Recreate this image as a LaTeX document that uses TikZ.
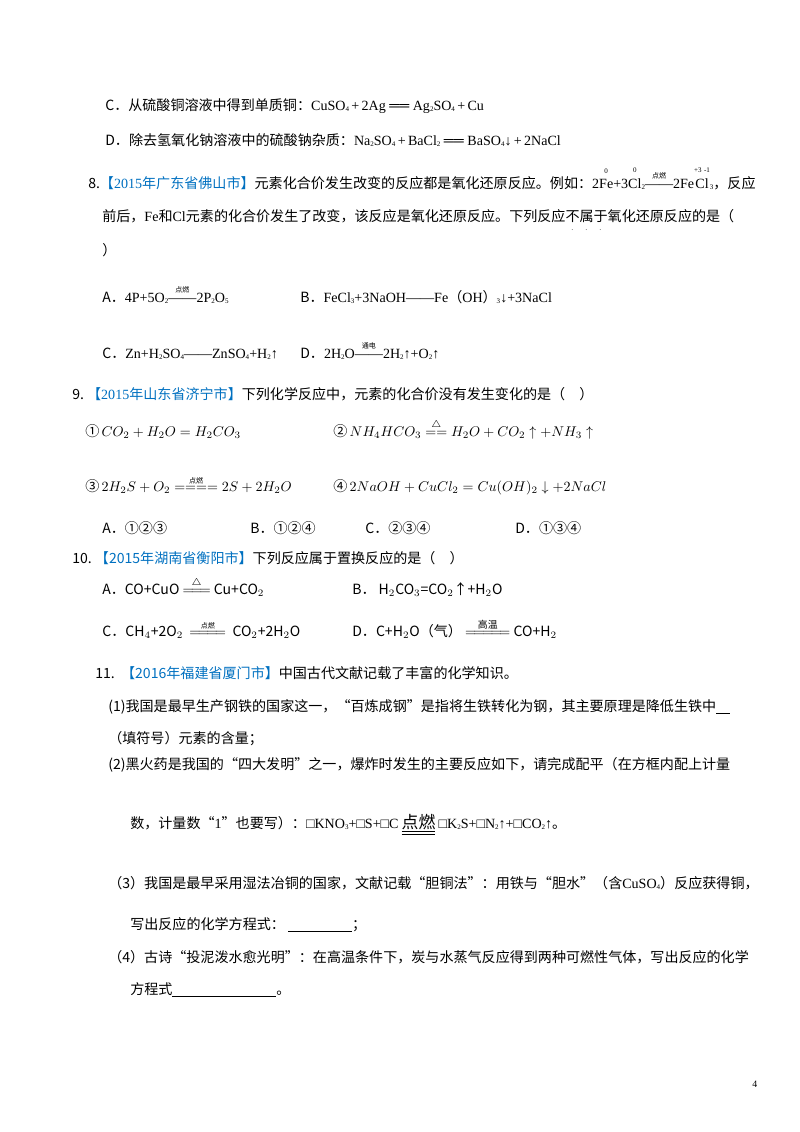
\documentclass[tikz,border=0pt]{standalone}
\usepackage{amsmath,amssymb}
\usepackage{fontspec}
\setmainfont{Noto Sans CJK SC}
\newfontfamily\lat{Liberation Serif}
\definecolor{srcblue}{RGB}{0,112,192}
\newcommand{\src}[1]{\textcolor{srcblue}{【#1】}}
\newcommand{\ce}[1]{{\lat #1}}
\newcommand{\sub}[1]{\raisebox{-0.3ex}{\tiny #1}}
\newcommand{\ov}[2]{\shortstack{{\tiny\rmfamily #1}\\[1pt]#2}}
\newcommand{\dotch}[1]{#1\llap{\raisebox{-1.3ex}{\tiny .}\hspace{0.45em}}}
\begin{document}
\begin{tikzpicture}[x=0.025cm, y=-0.025cm, font=\fontsize{10}{12}\selectfont]
  \tikzset{
    line/.style={anchor=base west, inner sep=0pt}
  }
  % page
  \useasboundingbox (0,0) rectangle (800,1132);

  % end of question 7
  \node[line] (q7c) at (105,110) {C．从硫酸铜溶液中得到单质铜：\ce{CuSO\sub{4}\,+\,2Ag ══ Ag\sub{2}SO\sub{4}\,+\,Cu}};
  \node[line] (q7d) at (105,145) {D．除去氢氧化钠溶液中的硫酸钠杂质：\ce{Na\sub{2}SO\sub{4}\,+\,BaCl\sub{2} ══ BaSO\sub{4}↓\,+\,2NaCl}};

  % question 8
  \node[line] (q8) at (88,188) {8.\src{\ce{2015}年广东省佛山市}元素化合价发生改变的反应都是氧化还原反应。例如：\ce{2\ov{\lat 0}{Fe}+3\ov{\lat 0}{Cl}\sub{2}\ov{点燃}{——}2Fe\ov{\lat +3\,\,-1}{Cl}\sub{3}}，反应};
  \node[line] (q8b) at (102,221) {前后，\ce{Fe}和\ce{Cl}元素的化合价发生了改变，该反应是氧化还原反应。下列反应\dotch{不}\dotch{属}\dotch{于}氧化还原反应的是（};
  \node[line] (q8c) at (102,255) {）};
  \node[line] (q8A) at (102,302) {A．\ce{4P+5O\sub{2}\ov{点燃}{——}2P\sub{2}O\sub{5}}};
  \node[line] (q8B) at (300,302) {B．\ce{FeCl\sub{3}+3NaOH——Fe}（\ce{OH}）\ce{\sub{3}↓+3NaCl}};
  \node[line] (q8C) at (102,358) {C．\ce{Zn+H\sub{2}SO\sub{4}——ZnSO\sub{4}+H\sub{2}↑}};
  \node[line] (q8D) at (300,358) {D．\ce{2H\sub{2}O\ov{通电}{——}2H\sub{2}↑+O\sub{2}↑}};

  % question 9
  \node[line] (q9) at (72,399) {9.\ \src{\ce{2015}年山东省济宁市}下列化学反应中，元素的化合价没有发生变化的是（\quad ）};
  \node[line] (e1) at (85,436) {①$\,CO_2+H_2O=H_2CO_3$};
  \node[line] (e2) at (333,436) {②$\,NH_4HCO_3 \overset{\triangle}{==} H_2O+CO_2\uparrow+NH_3\uparrow$};
  \node[line] (e3) at (85,491) {③$\,2H_2S+O_2\overset{\text{\tiny 点燃}}{====}2S+2H_2O$};
  \node[line] (e4) at (333,491) {④$\,2NaOH+CuCl_2=Cu(OH)_2\downarrow+2NaCl$};
  \foreach \x/\t in {102/A．①②③, 250/B．①②④, 365/C．②③④, 515/D．①③④}
    \node[line] at (\x,533) {\t};

  % question 10
  \node[line] (q10) at (72,563) {10.\ \src{2015年湖南省衡阳市}下列反应属于置换反应的是（\quad ）};
  \node[line] (q10A) at (102,594) {A．CO+CuO\ $\overset{\triangle}{=\!=\!=}$\ Cu+CO$_2$};
  \node[line] (q10B) at (352,594) {B．\ H$_2$CO$_3$=CO$_2$↑+H$_2$O};
  \node[line] (q10C) at (102,636) {C．CH$_4$+2O$_2$\ \ $\overset{\text{\tiny 点燃}}{=\!=\!=\!=}$\ \ CO$_2$+2H$_2$O};
  \node[line] (q10D) at (352,636) {D．C+H$_2$O（气）\ $\overset{\text{\scriptsize 高温}}{=\!=\!=\!=\!=}$\ CO+H$_2$};

  % question 11
  \node[line] (q11) at (95,678) {11.\ \ \src{2016年福建省厦门市}中国古代文献记载了丰富的化学知识。};
  \node[line] (p1) at (108,711) {(1)我国是最早生产钢铁的国家这一，“百炼成钢”是指将生铁转化为钢，其主要原理是降低生铁中\underline{\quad}};
  \node[line] (p1b) at (108,743) {（填符号）元素的含量；};
  \node[line] (p2) at (108,769) {(2)黑火药是我国的“四大发明”之一，爆炸时发生的主要反应如下，请完成配平（在方框内配上计量};
  \node[line] (p2b) at (130,828) {数，计量数“\ce{1}”也要写）：\ce{□KNO\sub{3}+□S+□C}\ \underline{\underline{\large 点燃}}\ \ce{□K\sub{2}S+□N\sub{2}↑+□CO\sub{2}↑}。};
  \node[line] (p3) at (108,888) {（3）我国是最早采用湿法冶铜的国家，文献记载“胆铜法”：用铁与“胆水”（含\ce{CuSO\sub{4}}）反应获得铜，};
  \node[line] (p3b) at (130,929) {写出反应的化学方程式：\ \underline{\hspace{1.6cm}}；};
  \node[line] (p4) at (108,962) {（4）古诗“投泥泼水愈光明”：在高温条件下，炭与水蒸气反应得到两种可燃性气体，写出反应的化学};
  \node[line] (p4b) at (130,994) {方程式\underline{\hspace{2.6cm}}。};

  % page number
  \node[line, font=\scriptsize\lat] (pg) at (752,1087) {4};
\end{tikzpicture}
\end{document}
